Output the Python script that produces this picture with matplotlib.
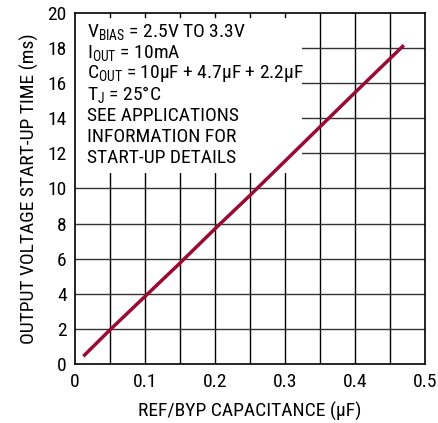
import matplotlib
matplotlib.use("Agg")
import matplotlib.pyplot as plt
import numpy as np
from matplotlib.patches import Rectangle

plt.rcParams['font.family'] = ['Roboto Condensed', 'DejaVu Sans']

# data
cap_uF = [0.012, 0.05, 0.10, 0.15, 0.20, 0.25, 0.30, 0.35, 0.40, 0.47]
startup_ms = [0.45, 1.95, 3.85, 5.75, 7.7, 9.6, 11.55, 13.5, 15.45, 18.15]

x_ticks = [0, 0.1, 0.2, 0.3, 0.4, 0.5]
x_labels = ["0", "0.1", "0.2", "0.3", "0.4", "0.5"]
y_ticks = list(range(0, 21, 2))

notes = [r"$\mathregular{V_{BIAS}}$ = 2.5V TO 3.3V",
         r"$\mathregular{I_{OUT}}$ = 10mA",
         r"$\mathregular{C_{OUT}}$ = 10µF + 4.7µF + 2.2µF",
         r"$\mathregular{T_{J}}$ = 25°C",
         "SEE APPLICATIONS",
         "INFORMATION FOR",
         "START-UP DETAILS"]

fig = plt.figure(figsize=(4.38, 4.23), dpi=100)
ax = fig.add_axes([0.171, 0.139, 0.799, 0.831])

ax.set_xlim(0, 0.5)
ax.set_ylim(0, 20)
for gx in np.arange(0.05, 0.5, 0.05):
    ax.axvline(gx, color='black', lw=1.0, zorder=0.5)
for gy in y_ticks[1:-1]:
    ax.axhline(gy, color='#333333', lw=1.0, zorder=0.5)

# white note box over the grid (upper left)
ax.add_patch(Rectangle((0, 10.9), 0.325, 9.1, facecolor='white', edgecolor='none', zorder=1))
for gx in np.arange(0.05, 0.33, 0.05):
    ax.plot([gx, gx], [20, 19.75], color='black', lw=1.0, zorder=1.5)

ax.plot(cap_uF, startup_ms, color='#9b0a32', lw=2.5, zorder=3, solid_capstyle='butt')

y0 = 0.945
for i, s in enumerate(notes):
    ax.text(0.035, y0 - i * 0.0595, s, transform=ax.transAxes, fontsize=14,
            va='center', ha='left', zorder=4)

ax.set_xticks(x_ticks)
ax.set_xticklabels(x_labels)
ax.set_yticks(y_ticks)
ax.tick_params(length=0, labelsize=14, pad=6)
for sp in ax.spines.values():
    sp.set_linewidth(1.2)
    sp.set_zorder(5)

ax.set_xlabel("REF/BYP CAPACITANCE (µF)", fontsize=14, labelpad=8)
ax.set_ylabel("OUTPUT VOLTAGE START-UP TIME (ms)", fontsize=14, labelpad=6)

fig.savefig("out.png", dpi=100)
